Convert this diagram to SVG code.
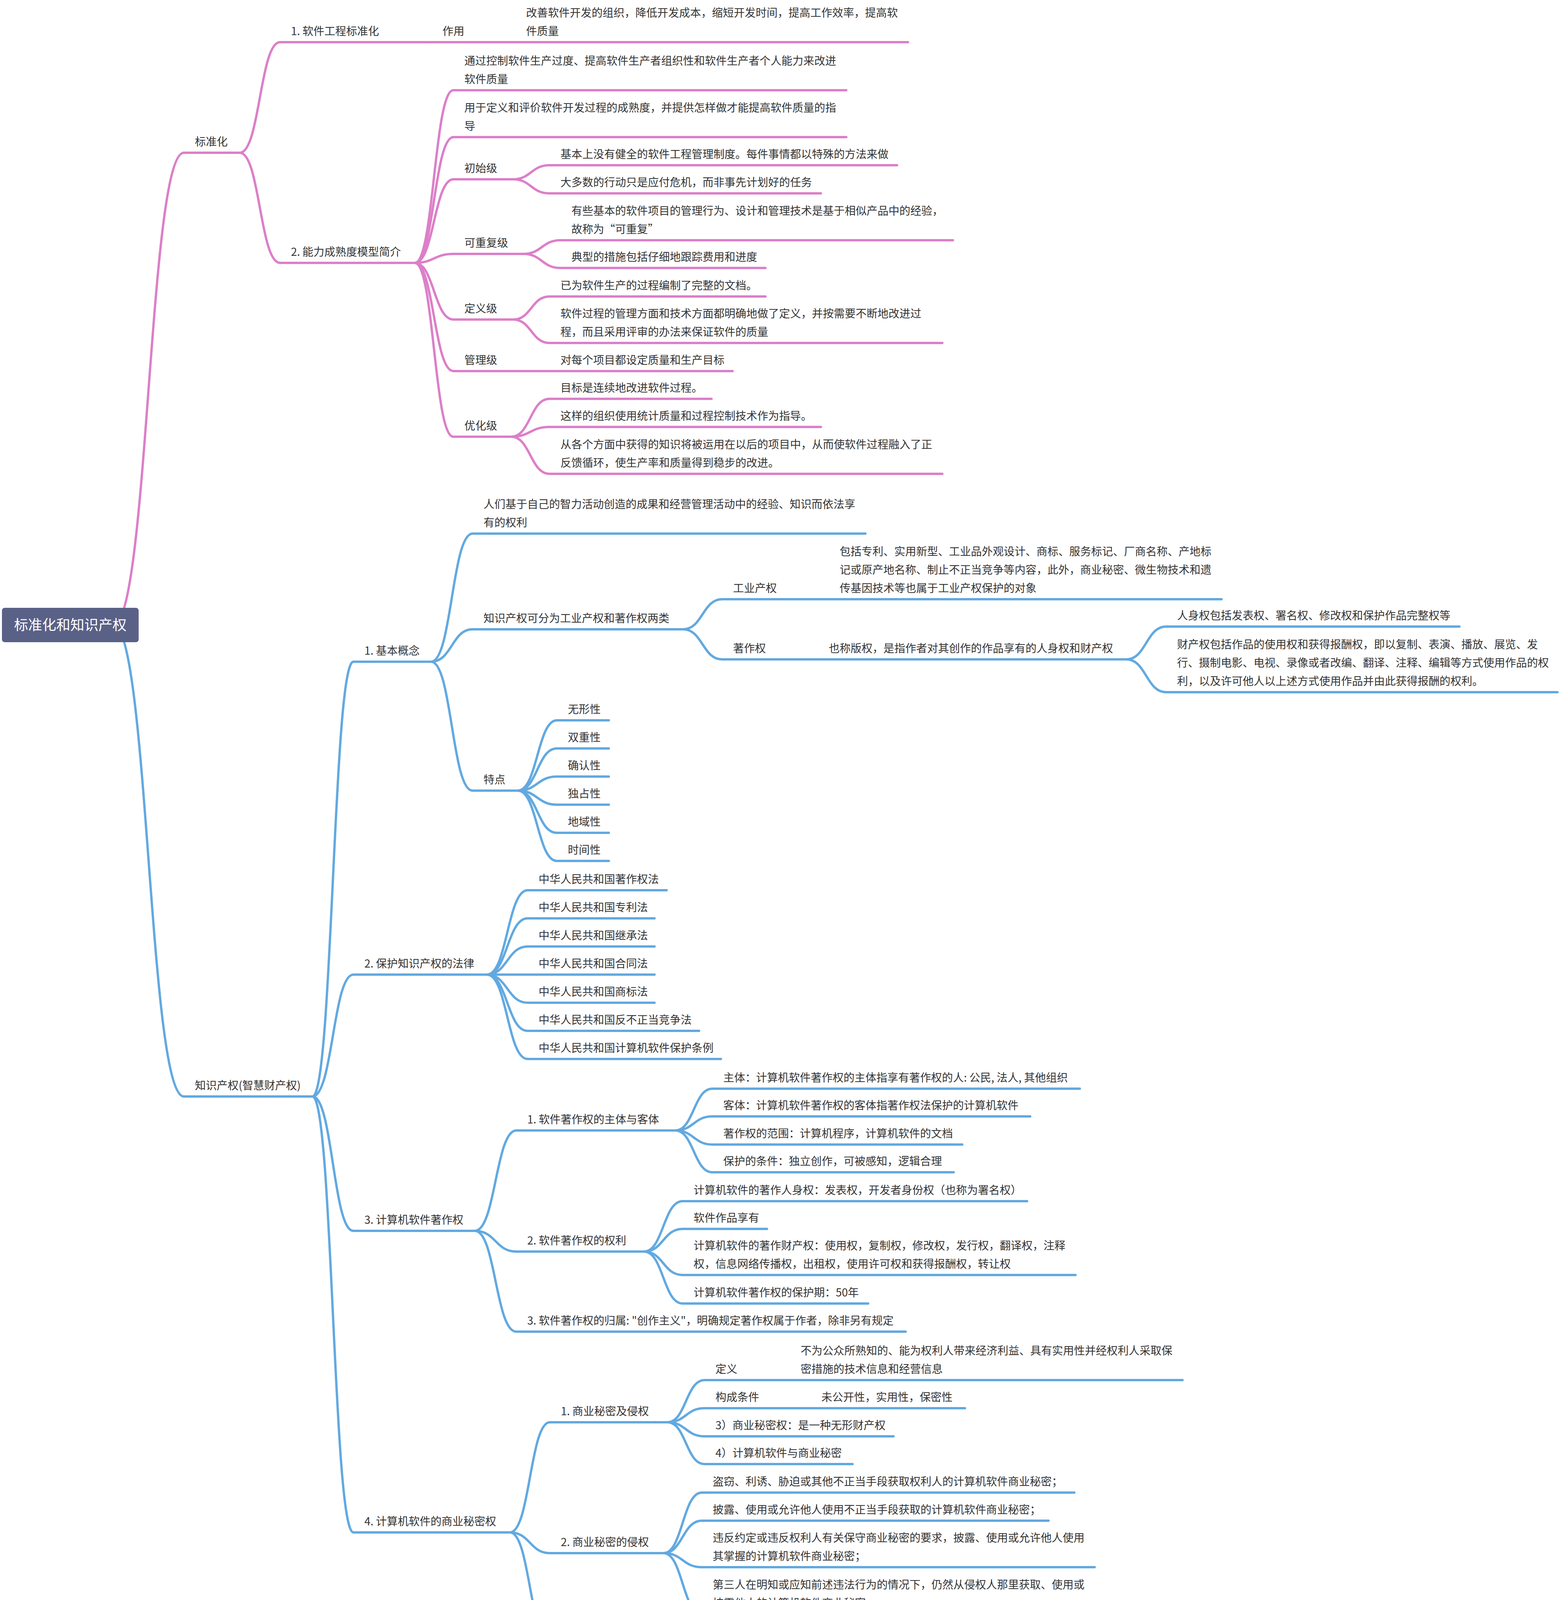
<svg xmlns="http://www.w3.org/2000/svg" width="3992" height="4208" viewBox="0 0 3992 4208">
<style>
.p{stroke:#DC7FC8;stroke-width:6;fill:none;stroke-linecap:round}
.b{stroke:#62A9E0;stroke-width:6;fill:none;stroke-linecap:round}
text{font-family:"Noto Sans CJK SC","Noto Sans",sans-serif;font-size:28px;fill:#333333}
.rt{font-size:36px;fill:#FFFFFF;text-anchor:middle}
</style>
<rect width="3992" height="4208" fill="#FFFFFF"/>
<g id="connectors">
<path class="p" d="M290 1600 C380.5 1600 380.5 391 471 391"/>
<path class="b" d="M290 1600 C380.5 1600 380.5 2807 471 2807"/>
<path class="p" d="M614 391 C665.5 391 665.5 108 717 108"/>
<path class="p" d="M614 391 C665.5 391 665.5 673 717 673"/>
<path class="p" d="M1085 108 L1105 108"/>
<path class="p" d="M1299 108 L1319 108"/>
<path class="p" d="M1062 673 C1111.5 673 1111.5 231 1161 231"/>
<path class="p" d="M1062 673 C1111.5 673 1111.5 351 1161 351"/>
<path class="p" d="M1062 673 C1111.5 673 1111.5 459 1161 459"/>
<path class="p" d="M1062 673 C1111.5 673 1111.5 650 1161 650"/>
<path class="p" d="M1062 673 C1111.5 673 1111.5 818 1161 818"/>
<path class="p" d="M1062 673 C1111.5 673 1111.5 950 1161 950"/>
<path class="p" d="M1062 673 C1111.5 673 1111.5 1118 1161 1118"/>
<path class="p" d="M1313 459 C1360 459 1360 423 1407 423"/>
<path class="p" d="M1313 459 C1360 459 1360 495 1407 495"/>
<path class="p" d="M1340 650 C1387.5 650 1387.5 615 1435 615"/>
<path class="p" d="M1340 650 C1387.5 650 1387.5 686 1435 686"/>
<path class="p" d="M1314 818 C1360.5 818 1360.5 759 1407 759"/>
<path class="p" d="M1314 818 C1360.5 818 1360.5 878 1407 878"/>
<path class="p" d="M1387 950 L1407 950"/>
<path class="p" d="M1309 1118 C1358 1118 1358 1021 1407 1021"/>
<path class="p" d="M1309 1118 C1358 1118 1358 1093 1407 1093"/>
<path class="p" d="M1309 1118 C1358 1118 1358 1213 1407 1213"/>
<path class="b" d="M800 2807 C852.5 2807 852.5 1694 905 1694"/>
<path class="b" d="M800 2807 C852.5 2807 852.5 2495 905 2495"/>
<path class="b" d="M800 2807 C852.5 2807 852.5 3151 905 3151"/>
<path class="b" d="M800 2807 C852.5 2807 852.5 3923 905 3923"/>
<path class="b" d="M1104 1694 C1157 1694 1157 1366 1210 1366"/>
<path class="b" d="M1104 1694 C1157 1694 1157 1611 1210 1611"/>
<path class="b" d="M1104 1694 C1157 1694 1157 2024 1210 2024"/>
<path class="b" d="M1749 1611 C1799 1611 1799 1534 1849 1534"/>
<path class="b" d="M1749 1611 C1799 1611 1799 1688 1849 1688"/>
<path class="b" d="M2102 1534 L2122 1534"/>
<path class="b" d="M2074 1688 L2094 1688"/>
<path class="b" d="M2884 1688 C2935 1688 2935 1604 2986 1604"/>
<path class="b" d="M2884 1688 C2935 1688 2935 1772 2986 1772"/>
<path class="b" d="M1326 2024 C1376 2024 1376 1844 1426 1844"/>
<path class="b" d="M1326 2024 C1376 2024 1376 1916 1426 1916"/>
<path class="b" d="M1326 2024 C1376 2024 1376 1988 1426 1988"/>
<path class="b" d="M1326 2024 C1376 2024 1376 2060 1426 2060"/>
<path class="b" d="M1326 2024 C1376 2024 1376 2132 1426 2132"/>
<path class="b" d="M1326 2024 C1376 2024 1376 2204 1426 2204"/>
<path class="b" d="M1247 2495 C1299 2495 1299 2279 1351 2279"/>
<path class="b" d="M1247 2495 C1299 2495 1299 2351 1351 2351"/>
<path class="b" d="M1247 2495 C1299 2495 1299 2423 1351 2423"/>
<path class="b" d="M1247 2495 L1351 2495"/>
<path class="b" d="M1247 2495 C1299 2495 1299 2567 1351 2567"/>
<path class="b" d="M1247 2495 C1299 2495 1299 2639 1351 2639"/>
<path class="b" d="M1247 2495 C1299 2495 1299 2711 1351 2711"/>
<path class="b" d="M1216 3151 C1269 3151 1269 2894 1322 2894"/>
<path class="b" d="M1216 3151 C1269 3151 1269 3204 1322 3204"/>
<path class="b" d="M1216 3151 C1269 3151 1269 3409 1322 3409"/>
<path class="b" d="M1729 2894 C1776.5 2894 1776.5 2787 1824 2787"/>
<path class="b" d="M1729 2894 C1776.5 2894 1776.5 2858 1824 2858"/>
<path class="b" d="M1729 2894 C1776.5 2894 1776.5 2930 1824 2930"/>
<path class="b" d="M1729 2894 C1776.5 2894 1776.5 3001 1824 3001"/>
<path class="b" d="M1649 3204 C1698.5 3204 1698.5 3075 1748 3075"/>
<path class="b" d="M1649 3204 C1698.5 3204 1698.5 3146 1748 3146"/>
<path class="b" d="M1649 3204 C1698.5 3204 1698.5 3264 1748 3264"/>
<path class="b" d="M1649 3204 C1698.5 3204 1698.5 3337 1748 3337"/>
<path class="b" d="M1306 3923 C1357 3923 1357 3641 1408 3641"/>
<path class="b" d="M1306 3923 C1357 3923 1357 3976 1408 3976"/>
<path class="b" d="M1306 3923 C1357 3923 1357 4203 1408 4203"/>
<path class="b" d="M1709 3641 C1756.5 3641 1756.5 3533 1804 3533"/>
<path class="b" d="M1709 3641 C1756.5 3641 1756.5 3605 1804 3605"/>
<path class="b" d="M1709 3641 C1756.5 3641 1756.5 3677 1804 3677"/>
<path class="b" d="M1709 3641 C1756.5 3641 1756.5 3748 1804 3748"/>
<path class="b" d="M2002 3533 L2022 3533"/>
<path class="b" d="M2055 3605 L2075 3605"/>
<path class="b" d="M1699 3976 C1748 3976 1748 3821 1797 3821"/>
<path class="b" d="M1699 3976 C1748 3976 1748 3893 1797 3893"/>
<path class="b" d="M1699 3976 C1748 3976 1748 4012 1797 4012"/>
<path class="b" d="M1699 3976 C1748 3976 1748 4132 1797 4132"/>
<path class="b" d="M2030 4203 L2050 4203"/>
</g>

<g id="root">
<rect x="5" y="1556" width="350" height="88" rx="7" fill="#5A6187"/>
<text class="rt" x="180" y="1613">标准化和知识产权</text>
</g>

<!-- pink branch -->
<g id="n-std"><line class="p" x1="471" y1="391" x2="614" y2="391"/><text x="499" y="373">标准化</text></g>
<g id="n-std-1"><line class="p" x1="717" y1="108" x2="1085" y2="108"/><text x="745" y="90">1. 软件工程标准化</text></g>
<g id="n-std-1-role"><line class="p" x1="1105" y1="108" x2="1299" y2="108"/><text x="1133" y="90">作用</text></g>
<g id="n-std-1-role-1"><line class="p" x1="1319" y1="108" x2="2325" y2="108"/><text x="1347" y="43">改善软件开发的组织，降低开发成本，缩短开发时间，提高工作效率，提高软<tspan x="1347" y="90">件质量</tspan></text></g>
<g id="n-std-2"><line class="p" x1="717" y1="673" x2="1062" y2="673"/><text x="745" y="655">2. 能力成熟度模型简介</text></g>
<g id="n-std-2-a"><line class="p" x1="1161" y1="231" x2="2167" y2="231"/><text x="1189" y="166">通过控制软件生产过度、提高软件生产者组织性和软件生产者个人能力来改进<tspan x="1189" y="213">软件质量</tspan></text></g>
<g id="n-std-2-b"><line class="p" x1="1161" y1="351" x2="2167" y2="351"/><text x="1189" y="286">用于定义和评价软件开发过程的成熟度，并提供怎样做才能提高软件质量的指<tspan x="1189" y="333">导</tspan></text></g>
<g id="n-l1"><line class="p" x1="1161" y1="459" x2="1313" y2="459"/><text x="1189" y="441">初始级</text></g>
<g id="n-l1-a"><line class="p" x1="1407" y1="423" x2="2297" y2="423"/><text x="1435" y="405">基本上没有健全的软件工程管理制度。每件事情都以特殊的方法来做</text></g>
<g id="n-l1-b"><line class="p" x1="1407" y1="495" x2="2102" y2="495"/><text x="1435" y="477">大多数的行动只是应付危机，而非事先计划好的任务</text></g>
<g id="n-l2"><line class="p" x1="1161" y1="650" x2="1340" y2="650"/><text x="1189" y="632">可重复级</text></g>
<g id="n-l2-a"><line class="p" x1="1435" y1="615" x2="2440" y2="615"/><text x="1463" y="550">有些基本的软件项目的管理行为、设计和管理技术是基于相似产品中的经验，<tspan x="1463" y="597">故称为“可重复”</tspan></text></g>
<g id="n-l2-b"><line class="p" x1="1435" y1="686" x2="1960" y2="686"/><text x="1463" y="668">典型的措施包括仔细地跟踪费用和进度</text></g>
<g id="n-l3"><line class="p" x1="1161" y1="818" x2="1314" y2="818"/><text x="1189" y="800">定义级</text></g>
<g id="n-l3-a"><line class="p" x1="1407" y1="759" x2="1960" y2="759"/><text x="1435" y="741">已为软件生产的过程编制了完整的文档。</text></g>
<g id="n-l3-b"><line class="p" x1="1407" y1="878" x2="2413" y2="878"/><text x="1435" y="813">软件过程的管理方面和技术方面都明确地做了定义，并按需要不断地改进过<tspan x="1435" y="860">程，而且采用评审的办法来保证软件的质量</tspan></text></g>
<g id="n-l4"><line class="p" x1="1161" y1="950" x2="1387" y2="950"/><text x="1189" y="932">管理级</text></g>
<g id="n-l4-a"><line class="p" x1="1407" y1="950" x2="1876" y2="950"/><text x="1435" y="932">对每个项目都设定质量和生产目标</text></g>
<g id="n-l5"><line class="p" x1="1161" y1="1118" x2="1309" y2="1118"/><text x="1189" y="1100">优化级</text></g>
<g id="n-l5-a"><line class="p" x1="1407" y1="1021" x2="1822" y2="1021"/><text x="1435" y="1003">目标是连续地改进软件过程。</text></g>
<g id="n-l5-b"><line class="p" x1="1407" y1="1093" x2="2102" y2="1093"/><text x="1435" y="1075">这样的组织使用统计质量和过程控制技术作为指导。</text></g>
<g id="n-l5-c"><line class="p" x1="1407" y1="1213" x2="2413" y2="1213"/><text x="1435" y="1148">从各个方面中获得的知识将被运用在以后的项目中，从而使软件过程融入了正<tspan x="1435" y="1195">反馈循环，使生产率和质量得到稳步的改进。</tspan></text></g>

<!-- blue branch -->
<g id="n-ip"><line class="b" x1="471" y1="2807" x2="800" y2="2807"/><text x="499" y="2789">知识产权(智慧财产权)</text></g>
<g id="n-ip-1"><line class="b" x1="905" y1="1694" x2="1104" y2="1694"/><text x="933" y="1676">1. 基本概念</text></g>
<g id="n-ip-1-a"><line class="b" x1="1210" y1="1366" x2="2216" y2="1366"/><text x="1238" y="1301">人们基于自己的智力活动创造的成果和经营管理活动中的经验、知识而依法享<tspan x="1238" y="1348">有的权利</tspan></text></g>
<g id="n-ip-1-b"><line class="b" x1="1210" y1="1611" x2="1749" y2="1611"/><text x="1238" y="1593">知识产权可分为工业产权和著作权两类</text></g>
<g id="n-ind"><line class="b" x1="1849" y1="1534" x2="2102" y2="1534"/><text x="1877" y="1516">工业产权</text></g>
<g id="n-ind-a"><line class="b" x1="2122" y1="1534" x2="3128" y2="1534"/><text x="2150" y="1422">包括专利、实用新型、工业品外观设计、商标、服务标记、厂商名称、产地标<tspan x="2150" y="1469">记或原产地名称、制止不正当竞争等内容，此外，商业秘密、微生物技术和遗</tspan><tspan x="2150" y="1516">传基因技术等也属于工业产权保护的对象</tspan></text></g>
<g id="n-cr"><line class="b" x1="1849" y1="1688" x2="2074" y2="1688"/><text x="1877" y="1670">著作权</text></g>
<g id="n-cr-a"><line class="b" x1="2094" y1="1688" x2="2884" y2="1688"/><text x="2122" y="1670">也称版权，是指作者对其创作的作品享有的人身权和财产权</text></g>
<g id="n-cr-a-1"><line class="b" x1="2986" y1="1604" x2="3737" y2="1604"/><text x="3014" y="1586">人身权包括发表权、署名权、修改权和保护作品完整权等</text></g>
<g id="n-cr-a-2"><line class="b" x1="2986" y1="1772" x2="3988" y2="1772"/><text x="3014" y="1660">财产权包括作品的使用权和获得报酬权，即以复制、表演、播放、展览、发<tspan x="3014" y="1707">行、摄制电影、电视、录像或者改编、翻译、注释、编辑等方式使用作品的权</tspan><tspan x="3014" y="1754">利，以及许可他人以上述方式使用作品并由此获得报酬的权利。</tspan></text></g>
<g id="n-feat"><line class="b" x1="1210" y1="2024" x2="1326" y2="2024"/><text x="1238" y="2006">特点</text></g>
<g id="n-feat-1"><line class="b" x1="1426" y1="1844" x2="1559" y2="1844"/><text x="1454" y="1826">无形性</text></g>
<g id="n-feat-2"><line class="b" x1="1426" y1="1916" x2="1559" y2="1916"/><text x="1454" y="1898">双重性</text></g>
<g id="n-feat-3"><line class="b" x1="1426" y1="1988" x2="1559" y2="1988"/><text x="1454" y="1970">确认性</text></g>
<g id="n-feat-4"><line class="b" x1="1426" y1="2060" x2="1559" y2="2060"/><text x="1454" y="2042">独占性</text></g>
<g id="n-feat-5"><line class="b" x1="1426" y1="2132" x2="1559" y2="2132"/><text x="1454" y="2114">地域性</text></g>
<g id="n-feat-6"><line class="b" x1="1426" y1="2204" x2="1559" y2="2204"/><text x="1454" y="2186">时间性</text></g>
<g id="n-ip-2"><line class="b" x1="905" y1="2495" x2="1247" y2="2495"/><text x="933" y="2477">2. 保护知识产权的法律</text></g>
<g id="n-law-1"><line class="b" x1="1351" y1="2279" x2="1707" y2="2279"/><text x="1379" y="2261">中华人民共和国著作权法</text></g>
<g id="n-law-2"><line class="b" x1="1351" y1="2351" x2="1676" y2="2351"/><text x="1379" y="2333">中华人民共和国专利法</text></g>
<g id="n-law-3"><line class="b" x1="1351" y1="2423" x2="1676" y2="2423"/><text x="1379" y="2405">中华人民共和国继承法</text></g>
<g id="n-law-4"><line class="b" x1="1351" y1="2495" x2="1676" y2="2495"/><text x="1379" y="2477">中华人民共和国合同法</text></g>
<g id="n-law-5"><line class="b" x1="1351" y1="2567" x2="1676" y2="2567"/><text x="1379" y="2549">中华人民共和国商标法</text></g>
<g id="n-law-6"><line class="b" x1="1351" y1="2639" x2="1790" y2="2639"/><text x="1379" y="2621">中华人民共和国反不正当竞争法</text></g>
<g id="n-law-7"><line class="b" x1="1351" y1="2711" x2="1846" y2="2711"/><text x="1379" y="2693">中华人民共和国计算机软件保护条例</text></g>
<g id="n-ip-3"><line class="b" x1="905" y1="3151" x2="1216" y2="3151"/><text x="933" y="3133">3. 计算机软件著作权</text></g>
<g id="n-sc-1"><line class="b" x1="1322" y1="2894" x2="1729" y2="2894"/><text x="1350" y="2876">1. 软件著作权的主体与客体</text></g>
<g id="n-sc-1-a"><line class="b" x1="1824" y1="2787" x2="2765" y2="2787"/><text x="1852" y="2769">主体：计算机软件著作权的主体指享有著作权的人: 公民, 法人, 其他组织</text></g>
<g id="n-sc-1-b"><line class="b" x1="1824" y1="2858" x2="2638" y2="2858"/><text x="1852" y="2840">客体：计算机软件著作权的客体指著作权法保护的计算机软件</text></g>
<g id="n-sc-1-c"><line class="b" x1="1824" y1="2930" x2="2464" y2="2930"/><text x="1852" y="2912">著作权的范围：计算机程序，计算机软件的文档</text></g>
<g id="n-sc-1-d"><line class="b" x1="1824" y1="3001" x2="2442" y2="3001"/><text x="1852" y="2983">保护的条件：独立创作，可被感知，逻辑合理</text></g>
<g id="n-sc-2"><line class="b" x1="1322" y1="3204" x2="1649" y2="3204"/><text x="1350" y="3186">2. 软件著作权的权利</text></g>
<g id="n-sc-2-a"><line class="b" x1="1748" y1="3075" x2="2630" y2="3075"/><text x="1776" y="3057">计算机软件的著作人身权：发表权，开发者身份权（也称为署名权）</text></g>
<g id="n-sc-2-b"><line class="b" x1="1748" y1="3146" x2="1964" y2="3146"/><text x="1776" y="3128">软件作品享有</text></g>
<g id="n-sc-2-c"><line class="b" x1="1748" y1="3264" x2="2754" y2="3264"/><text x="1776" y="3199">计算机软件的著作财产权：使用权，复制权，修改权，发行权，翻译权，注释<tspan x="1776" y="3246">权，信息网络传播权，出租权，使用许可权和获得报酬权，转让权</tspan></text></g>
<g id="n-sc-2-d"><line class="b" x1="1748" y1="3337" x2="2223" y2="3337"/><text x="1776" y="3319">计算机软件著作权的保护期：50年</text></g>
<g id="n-sc-3"><line class="b" x1="1322" y1="3409" x2="2319" y2="3409"/><text x="1350" y="3391">3. 软件著作权的归属: "创作主义"，明确规定著作权属于作者，除非另有规定</text></g>
<g id="n-ip-4"><line class="b" x1="905" y1="3923" x2="1306" y2="3923"/><text x="933" y="3905">4. 计算机软件的商业秘密权</text></g>
<g id="n-ts-1"><line class="b" x1="1408" y1="3641" x2="1709" y2="3641"/><text x="1436" y="3623">1. 商业秘密及侵权</text></g>
<g id="n-ts-def"><line class="b" x1="1804" y1="3533" x2="2002" y2="3533"/><text x="1832" y="3515">定义</text></g>
<g id="n-ts-def-a"><line class="b" x1="2022" y1="3533" x2="3028" y2="3533"/><text x="2050" y="3468">不为公众所熟知的、能为权利人带来经济利益、具有实用性并经权利人采取保<tspan x="2050" y="3515">密措施的技术信息和经营信息</tspan></text></g>
<g id="n-ts-cond"><line class="b" x1="1804" y1="3605" x2="2055" y2="3605"/><text x="1832" y="3587">构成条件</text></g>
<g id="n-ts-cond-a"><line class="b" x1="2075" y1="3605" x2="2471" y2="3605"/><text x="2103" y="3587">未公开性，实用性，保密性</text></g>
<g id="n-ts-3"><line class="b" x1="1804" y1="3677" x2="2288" y2="3677"/><text x="1832" y="3659">3）商业秘密权：是一种无形财产权</text></g>
<g id="n-ts-4"><line class="b" x1="1804" y1="3748" x2="2183" y2="3748"/><text x="1832" y="3730">4）计算机软件与商业秘密</text></g>
<g id="n-ts-2"><line class="b" x1="1408" y1="3976" x2="1699" y2="3976"/><text x="1436" y="3958">2. 商业秘密的侵权</text></g>
<g id="n-ts-2-a"><line class="b" x1="1797" y1="3821" x2="2751" y2="3821"/><text x="1825" y="3803">盗窃、利诱、胁迫或其他不正当手段获取权利人的计算机软件商业秘密；</text></g>
<g id="n-ts-2-b"><line class="b" x1="1797" y1="3893" x2="2685" y2="3893"/><text x="1825" y="3875">披露、使用或允许他人使用不正当手段获取的计算机软件商业秘密；</text></g>
<g id="n-ts-2-c"><line class="b" x1="1797" y1="4012" x2="2803" y2="4012"/><text x="1825" y="3947">违反约定或违反权利人有关保守商业秘密的要求，披露、使用或允许他人使用<tspan x="1825" y="3994">其掌握的计算机软件商业秘密；</tspan></text></g>
<g id="n-ts-2-d"><line class="b" x1="1797" y1="4132" x2="2803" y2="4132"/><text x="1825" y="4067">第三人在明知或应知前述违法行为的情况下，仍然从侵权人那里获取、使用或<tspan x="1825" y="4114">披露他人的计算机软件商业秘密</tspan></text></g>
<g id="n-ts-3l"><line class="b" x1="1408" y1="4203" x2="2030" y2="4203"/><text x="1436" y="4185">3. 计算机软件商业秘密侵权的法律责任</text></g>
<g id="n-ts-3l-a"><line class="b" x1="2050" y1="4203" x2="2527" y2="4203"/><text x="2078" y="4185">行政责任，民事责任以及刑事责任</text></g>
</svg>
